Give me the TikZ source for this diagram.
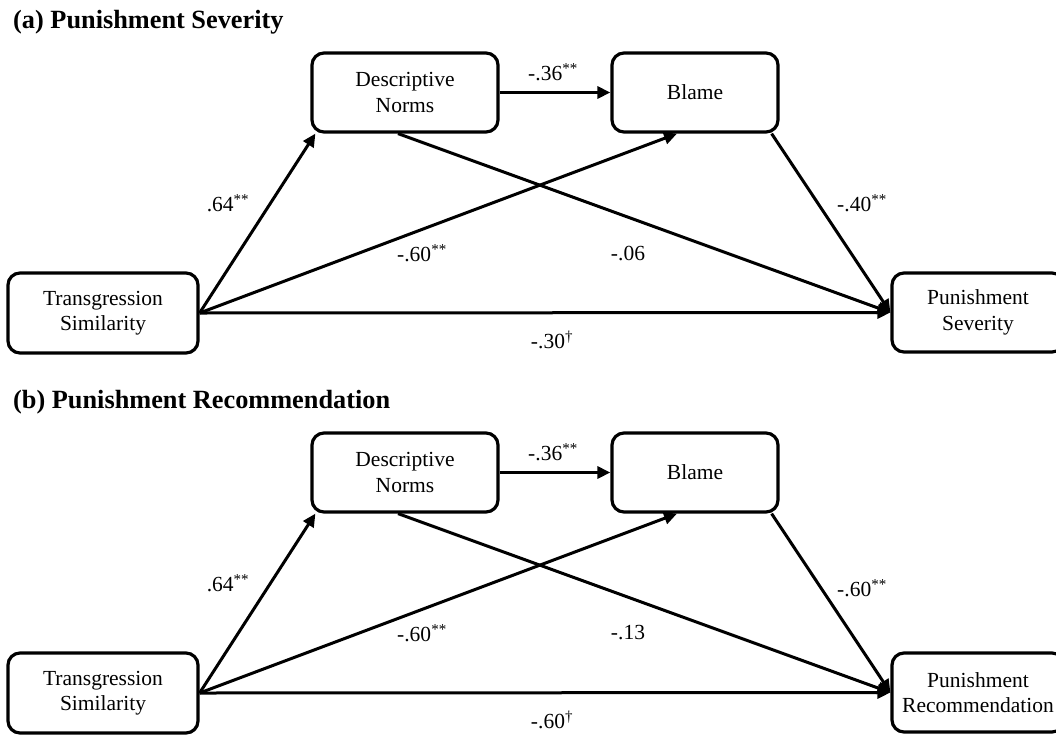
\documentclass[tikz,border=0pt]{standalone}
\usepackage{fontspec}
\setmainfont{Liberation Serif}
\usetikzlibrary{arrows.meta,calc}
\begin{document}
\begin{tikzpicture}[x=1pt,y=-1pt,
  box/.style={draw, line width=3.2pt, rounded corners=12pt, align=center, inner sep=0pt, font=\fontsize{21.5}{25.5}\selectfont},
  conn/.style={line width=3pt, -{Triangle[length=13pt,width=12pt]}},
  lab/.style={font=\fontsize{21.5}{25.5}\selectfont, inner sep=0pt},
  ttl/.style={font=\fontsize{26.3}{30}\selectfont\bfseries, anchor=west, inner sep=0pt}]
\useasboundingbox (0,0) rectangle (1056,736);
\clip (0,0) rectangle (1056,736);
% ---------- panel (a)
\node[ttl] (ta) at (13,22) {(a) Punishment Severity};
\node[box, minimum width=186pt, minimum height=79pt] (aDN) at (405,92.5) {Descriptive\\Norms};
\node[box, minimum width=166pt, minimum height=79pt] (aBl) at (695,92.5) {Blame};
\node[box, minimum width=190pt, minimum height=80pt] (aTS) at (103,313) {Transgression\\Similarity};
\node[box, minimum width=172pt, minimum height=79pt] (aPS) at (978,312.5) {Punishment\\Severity};
\draw[conn] (aDN.east) -- (aBl.west);
\draw[conn] (aTS.east) -- ($(aDN.south west)+(5,0)$);
\draw[conn] (aTS.east) -- ($(aBl.south)+(-18,0)$);
\draw[conn] (aTS.east) -- (aPS.west);
\draw[conn] ($(aDN.south)+(-7,0)$) -- (aPS.west);
\draw[conn] ($(aBl.south east)+(-8,0)$) -- (aPS.west);
\node[lab] (a1) at (553,72) {-.36\textsuperscript{**}};
\node[lab] (a2) at (228,203) {.64\textsuperscript{**}};
\node[lab] (a3) at (422,253) {-.60\textsuperscript{**}};
\node[lab] (a4) at (628,253) {-.06};
\node[lab] (a5) at (862,203) {-.40\textsuperscript{**}};
\node[lab] (a6) at (552,340) {-.30\textsuperscript{†}};
% ---------- panel (b)
\begin{scope}[shift={(0,380)}]
\node[ttl] (tb) at (13,22) {(b) Punishment Recommendation};
\node[box, minimum width=186pt, minimum height=79pt] (bDN) at (405,92.5) {Descriptive\\Norms};
\node[box, minimum width=166pt, minimum height=79pt] (bBl) at (695,92.5) {Blame};
\node[box, minimum width=190pt, minimum height=80pt] (bTS) at (103,313) {Transgression\\Similarity};
\node[box, minimum width=172pt, minimum height=79pt] (bPS) at (978,312.5) {Punishment\\Recommendation};
\draw[conn] (bDN.east) -- (bBl.west);
\draw[conn] (bTS.east) -- ($(bDN.south west)+(5,0)$);
\draw[conn] (bTS.east) -- ($(bBl.south)+(-18,0)$);
\draw[conn] (bTS.east) -- (bPS.west);
\draw[conn] ($(bDN.south)+(-7,0)$) -- (bPS.west);
\draw[conn] ($(bBl.south east)+(-8,0)$) -- (bPS.west);
\node[lab] (b1) at (553,72) {-.36\textsuperscript{**}};
\node[lab] (b2) at (228,203) {.64\textsuperscript{**}};
\node[lab] (b3) at (422,253) {-.60\textsuperscript{**}};
\node[lab] (b4) at (628,253) {-.13};
\node[lab] (b5) at (862,208) {-.60\textsuperscript{**}};
\node[lab] (b6) at (552,340) {-.60\textsuperscript{†}};
\end{scope}
\end{tikzpicture}
\end{document}
